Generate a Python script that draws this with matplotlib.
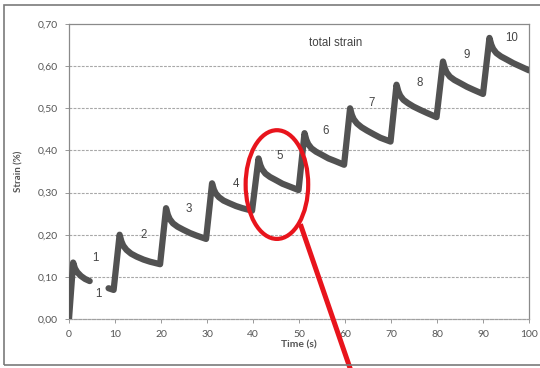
import matplotlib
matplotlib.use("Agg")
import matplotlib.pyplot as plt
import numpy as np
from matplotlib.patches import Ellipse, Rectangle
from matplotlib.ticker import FuncFormatter

# ---- data ----
# first (short) loading segment of cycle 1
time_a = [0.0, 0.9, 1.3, 1.8, 2.6, 3.5, 4.5]
strain_a = [0.000, 0.134, 0.120, 0.111, 0.102, 0.095, 0.090]

# continuous curve from cycle 1 (second part) up to cycle 10
time_b = [8.6, 9.7,
          11.0, 11.4, 11.8, 12.5, 13.5, 14.7, 16.2, 17.6, 19.8,
          21.1, 21.5, 21.9, 22.6, 23.6, 24.8, 26.3, 27.7, 29.8,
          31.1, 31.5, 31.9, 32.6, 33.6, 34.8, 36.3, 37.7, 39.8,
          41.2, 41.6, 42.0, 42.7, 43.7, 44.9, 46.4, 47.8, 49.9,
          51.2, 51.6, 52.0, 52.7, 53.7, 54.9, 56.4, 57.8, 59.8,
          61.1, 61.5, 61.9, 62.6, 63.6, 64.8, 66.3, 67.7, 69.9,
          71.2, 71.6, 72.0, 72.7, 73.7, 74.9, 76.4, 77.8, 79.9,
          81.3, 81.7, 82.1, 82.8, 83.8, 85.0, 86.5, 87.9, 90.0,
          91.4, 91.8, 92.2, 92.9, 93.9, 95.1, 96.6, 98.0, 100.0]
strain_b = [0.073, 0.069,
            0.200, 0.184, 0.174, 0.164, 0.155, 0.148, 0.141, 0.136, 0.130,
            0.263, 0.247, 0.237, 0.227, 0.219, 0.212, 0.204, 0.198, 0.190,
            0.322, 0.307, 0.298, 0.289, 0.281, 0.275, 0.268, 0.263, 0.257,
            0.381, 0.365, 0.355, 0.345, 0.337, 0.330, 0.321, 0.315, 0.306,
            0.441, 0.425, 0.415, 0.405, 0.397, 0.390, 0.381, 0.375, 0.366,
            0.500, 0.484, 0.474, 0.464, 0.455, 0.447, 0.438, 0.430, 0.421,
            0.556, 0.540, 0.530, 0.520, 0.512, 0.504, 0.496, 0.489, 0.479,
            0.611, 0.595, 0.585, 0.575, 0.567, 0.560, 0.551, 0.544, 0.534,
            0.667, 0.651, 0.641, 0.631, 0.623, 0.616, 0.607, 0.600, 0.590]

cycle_labels = ["1", "1", "2", "3", "4", "5", "6", "7", "8", "9", "10"]
label_t = [5.7, 6.4, 16.2, 26.1, 36.2, 45.8, 55.8, 65.9, 76.3, 86.5, 96.3]
label_v = [0.145, 0.059, 0.200, 0.261, 0.320, 0.387, 0.447, 0.512, 0.560, 0.627, 0.667]

x_ticks = [0, 10, 20, 30, 40, 50, 60, 70, 80, 90, 100]
y_ticks = [0.0, 0.1, 0.2, 0.3, 0.4, 0.5, 0.6, 0.7]

# ---- figure ----
fig = plt.figure(figsize=(5.40, 3.68), dpi=100)
ax = fig.add_axes([69/540, 1-319/368, (529-69)/540, (319-24)/368])

line_color = "#525252"
for tt, ss in [(time_a, strain_a), (time_b, strain_b)]:
    ax.plot(tt, ss, color=line_color, lw=4.5, solid_capstyle="round",
            solid_joinstyle="round", zorder=3)

ax.set_xlim(0, 100)
ax.set_ylim(0, 0.70)
ax.set_xticks(x_ticks)
ax.set_yticks(y_ticks)
ax.yaxis.set_major_formatter(FuncFormatter(lambda v, p: f"{v:.2f}".replace(".", ",")))

for y in y_ticks[1:-1]:
    ax.axhline(y, color="#a8a8a8", lw=0.8, ls=(0, (2.5, 1.2)), zorder=1)

for s in ["top", "right", "left"]:
    ax.spines[s].set_color("#8a8a8a")
    ax.spines[s].set_linewidth(0.9)
ax.spines["bottom"].set_color("#a0a0a0")
ax.spines["bottom"].set_linestyle((0, (2.5, 1.2)))
ax.spines["bottom"].set_linewidth(0.9)

ax.tick_params(axis="both", colors="#999999", length=3, width=0.7, labelcolor="#555555")
ax.tick_params(axis="x", pad=5)
ax.tick_params(axis="y", pad=5)
for lab in ax.get_xticklabels() + ax.get_yticklabels():
    lab.set_fontfamily(["Lato", "DejaVu Sans"])
    lab.set_fontsize(7.5)

ax.set_xlabel("Time (s)", fontsize=7.5, fontweight="bold", color="#555555",
              family=["Lato", "DejaVu Sans"], labelpad=1)
ax.set_ylabel("Strain (%)", fontsize=7, fontweight="bold", color="#555555",
              family=["Lato", "DejaVu Sans"], labelpad=10)

for lab, t, v in zip(cycle_labels, label_t, label_v):
    ax.text(t, v, lab, fontsize=8.3, color="#444444", ha="center", va="center",
            family=["Liberation Sans", "DejaVu Sans"])
ax.text(58, 0.655, "total strain", fontsize=8.3, color="#444444", ha="center", va="center",
        family=["Liberation Sans", "DejaVu Sans"])

# red highlight annotation
red = "#e8141c"
ax.add_patch(Ellipse((45.2, 0.319), 13.6, 0.258, fill=False, edgecolor=red,
                     lw=3.0, clip_on=False, zorder=5))
ax.plot([50.3, 61.2], [0.225, -0.12], color=red, lw=3.6, clip_on=False, zorder=5,
        solid_capstyle="butt")

# outer border of the scanned frame
fig.patches.append(Rectangle((4/540, 1-365/368), 1.2, (365-5)/368, transform=fig.transFigure,
                             fill=False, edgecolor="#7a7a7a", lw=1.2))

fig.savefig("out.png", dpi=100)
